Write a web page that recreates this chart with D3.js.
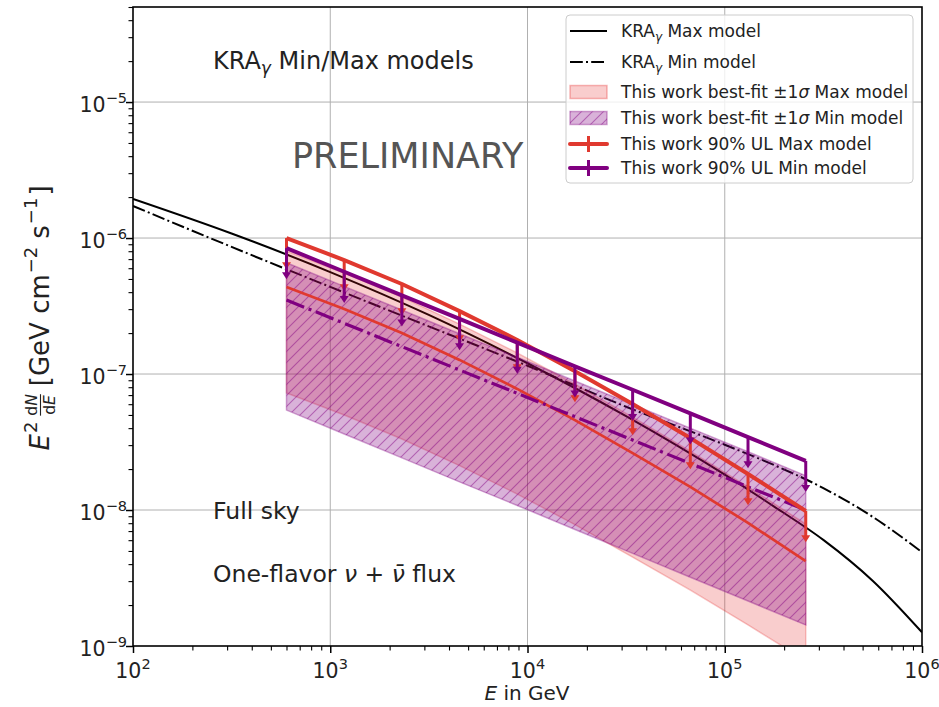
<!DOCTYPE html>
<html><head><meta charset="utf-8">
<script src="https://cdn.jsdelivr.net/npm/d3@7"></script>
<style>
html,body{margin:0;padding:0;background:#fff;}
svg{display:block;font-family:"DejaVu Sans",sans-serif;}
</style></head><body>
<svg id="chart" width="939" height="707"></svg>
<script>
// ---- data -------------------------------------------------------------
// analysis energy bins (GeV)
const binEnergy = [600, 1177, 2307, 4525, 8872, 17400, 34120, 66900, 131200, 257400];

// Max model template fit
const ulMax    = [1.00e-6, 6.89e-7, 4.59e-7, 2.90e-7, 1.78e-7, 1.05e-7, 6.01e-8, 3.38e-8, 1.84e-8, 9.84e-9];
const bfMax    = [4.37e-7, 3.01e-7, 2.00e-7, 1.27e-7, 7.77e-8, 4.58e-8, 2.62e-8, 1.48e-8, 8.03e-9, 4.20e-9];
const bandMaxHi = [8.02e-7, 5.53e-7, 3.68e-7, 2.33e-7, 1.43e-7, 8.42e-8, 4.82e-8, 2.71e-8, 1.48e-8, 7.89e-9];
const bandMaxLo = [7.25e-8, 5.00e-8, 3.33e-8, 2.12e-8, 1.31e-8, 7.80e-9, 4.50e-9, 2.58e-9, 1.43e-9, 7.80e-10];

// Min model template fit
const ulMin    = [8.43e-7, 5.65e-7, 3.79e-7, 2.54e-7, 1.70e-7, 1.14e-7, 7.66e-8, 5.13e-8, 3.44e-8, 2.30e-8];
const bfMin    = [3.50e-7, 2.36e-7, 1.59e-7, 1.07e-7, 7.21e-8, 4.86e-8, 3.27e-8, 2.20e-8, 1.48e-8, 1.00e-8];
const bandMinHi = [6.58e-7, 4.41e-7, 2.96e-7, 1.98e-7, 1.33e-7, 8.89e-8, 5.97e-8, 4.00e-8, 2.68e-8, 1.79e-8];
const bandMinLo = [5.43e-8, 3.62e-8, 2.42e-8, 1.61e-8, 1.08e-8, 7.19e-9, 4.80e-9, 3.20e-9, 2.14e-9, 1.43e-9];

// KRA-gamma model predictions
const modelEnergy = [1e2, 3.16e2, 1e3, 3.16e3, 1e4, 3.16e4, 1e5, 1.78e5, 3.16e5, 5.62e5, 1e6];
const kraMax = [1.94e-6, 1.08e-6, 5.62e-7, 2.72e-7, 1.20e-7, 4.90e-8, 1.82e-8, 1.06e-8, 6.03e-9, 3.02e-9, 1.26e-9];
const kraMin = [1.72e-6, 8.61e-7, 4.37e-7, 2.24e-7, 1.15e-7, 5.75e-8, 3.02e-8, 2.14e-8, 1.45e-8, 8.91e-9, 4.90e-9];

// axis ticks
const xMajor = [1e2, 1e3, 1e4, 1e5, 1e6];
const xMajorExp = ["2", "3", "4", "5", "6"];
const yMajor = [1e-9, 1e-8, 1e-7, 1e-6, 1e-5];
const yMajorExp = ["\u22129", "\u22128", "\u22127", "\u22126", "\u22125"];

// ---- layout -----------------------------------------------------------
const L = 133, R = 922, T = 7, B = 646;
const RED = "#e0392f", PURPLE = "#800080";

const svg = d3.select("#chart");
const x = d3.scaleLog().domain([1e2, 1e6]).range([L, R]);
const y = d3.scaleLog().domain([1e-9, 5e-5]).range([B, T]);

const defs = svg.append("defs");
defs.append("clipPath").attr("id", "plotclip")
  .append("rect").attr("x", L).attr("y", T).attr("width", R - L).attr("height", B - T);
const hatch = defs.append("pattern").attr("id", "hatch")
  .attr("patternUnits", "userSpaceOnUse").attr("width", 11).attr("height", 11);
hatch.append("path").attr("d", "M-3,3 L3,-3 M0,11 L11,0 M8,14 L14,8")
  .attr("stroke", PURPLE).attr("stroke-opacity", 0.45).attr("stroke-width", 1.1);

// grid
const grid = svg.append("g");
grid.selectAll("line.gx").data(xMajor.slice(1, -1)).join("line")
  .attr("x1", d => x(d)).attr("x2", d => x(d)).attr("y1", T).attr("y2", B)
  .attr("stroke", "#b0b0b0").attr("stroke-width", 1);
grid.selectAll("line.gy").data(yMajor.slice(1)).join("line")
  .attr("y1", d => y(d)).attr("y2", d => y(d)).attr("x1", L).attr("x2", R)
  .attr("stroke", "#b0b0b0").attr("stroke-width", 1);

const plot = svg.append("g").attr("clip-path", "url(#plotclip)");

// model curves
const modelLine = d3.line().x((d, i) => x(modelEnergy[i])).y(d => y(d)).curve(d3.curveMonotoneX);
plot.append("path").attr("d", modelLine(kraMax)).attr("fill", "none")
  .attr("stroke", "#000").attr("stroke-width", 2);
plot.append("path").attr("d", modelLine(kraMin)).attr("fill", "none")
  .attr("stroke", "#000").attr("stroke-width", 2).attr("stroke-dasharray", "12.8,3.2,2,3.2");

// +-1 sigma bands
const band = (lo, hi) => d3.area().x((d, i) => x(binEnergy[i])).y0((d, i) => y(lo[i])).y1((d, i) => y(hi[i]))(lo);
plot.append("path").attr("d", band(bandMaxLo, bandMaxHi))
  .attr("fill", "#e41a1c").attr("fill-opacity", 0.22)
  .attr("stroke", "#e41a1c").attr("stroke-opacity", 0.25).attr("stroke-width", 1.5);
plot.append("path").attr("d", band(bandMinLo, bandMinHi))
  .attr("fill", PURPLE).attr("fill-opacity", 0.3)
  .attr("stroke", PURPLE).attr("stroke-opacity", 0.35).attr("stroke-width", 1.5);
plot.append("path").attr("d", band(bandMinLo, bandMinHi)).attr("fill", "url(#hatch)");

// best-fit lines
const binLine = d3.line().x((d, i) => x(binEnergy[i])).y(d => y(d));
plot.append("path").attr("d", binLine(bfMax)).attr("fill", "none")
  .attr("stroke", RED).attr("stroke-width", 2.7);
plot.append("path").attr("d", binLine(bfMin)).attr("fill", "none")
  .attr("stroke", PURPLE).attr("stroke-width", 3.2).attr("stroke-dasharray", "19,4.8,3,4.8");

// 90% upper limits with down arrows
function upperLimits(vals, color) {
  const g = plot.append("g");
  g.append("path").attr("d", binLine(vals)).attr("fill", "none")
    .attr("stroke", color).attr("stroke-width", 4).attr("stroke-linejoin", "round");
  vals.forEach((v, i) => {
    const px = x(binEnergy[i]), top = y(v), bot = y(v * 0.6);
    g.append("line").attr("x1", px).attr("x2", px).attr("y1", top).attr("y2", bot - 3)
      .attr("stroke", color).attr("stroke-width", 3);
    g.append("path").attr("d", `M${px - 4.5},${bot - 6} L${px + 4.5},${bot - 6} L${px},${bot + 1} Z`)
      .attr("fill", color);
  });
}
upperLimits(ulMax, RED);
upperLimits(ulMin, PURPLE);

// ---- axes -------------------------------------------------------------
const xMinor = [];
for (let e = 2; e < 6; e++) for (let k = 2; k <= 9; k++) xMinor.push(k * Math.pow(10, e));
const yMinor = [];
for (let e = -9; e < -4; e++) for (let k = 2; k <= 9; k++) { const v = k * Math.pow(10, e); if (v <= 5e-5) yMinor.push(v); }

const axG = svg.append("g");
const styleAxis = g => { g.select(".domain").remove(); g.selectAll("line").attr("stroke", "#000"); };
axG.append("g").attr("transform", `translate(0,${B})`)
  .call(d3.axisBottom(x).tickValues(xMajor).tickSize(7).tickFormat(""))
  .call(styleAxis).selectAll("line").attr("stroke-width", 1.5);
axG.append("g").attr("transform", `translate(0,${B})`)
  .call(d3.axisBottom(x).tickValues(xMinor).tickSize(4.5).tickFormat(""))
  .call(styleAxis).selectAll("line").attr("stroke-width", 1.1);
axG.append("g").attr("transform", `translate(${L},0)`)
  .call(d3.axisLeft(y).tickValues(yMajor).tickSize(7).tickFormat(""))
  .call(styleAxis).selectAll("line").attr("stroke-width", 1.5);
axG.append("g").attr("transform", `translate(${L},0)`)
  .call(d3.axisLeft(y).tickValues(yMinor).tickSize(4.5).tickFormat(""))
  .call(styleAxis).selectAll("line").attr("stroke-width", 1.1);

// frame
svg.append("rect").attr("x", L).attr("y", T).attr("width", R - L).attr("height", B - T)
  .attr("fill", "none").attr("stroke", "#000").attr("stroke-width", 1.6);

// tick labels
function powLabel(t, exp) {
  t.append("tspan").text("10");
  t.append("tspan").attr("font-size", 14.5).attr("dy", -9).text(exp);
}
xMajor.forEach((v, i) => {
  const t = svg.append("text").attr("x", x(v)).attr("y", 678).attr("text-anchor", "middle")
    .attr("font-size", 20.5).attr("fill", "#222");
  powLabel(t, xMajorExp[i]);
});
yMajor.forEach((v, i) => {
  const t = svg.append("text").attr("x", 127).attr("y", y(v) + 10).attr("text-anchor", "end")
    .attr("font-size", 20.5).attr("fill", "#222");
  powLabel(t, yMajorExp[i]);
});

// rich text helper: segments {t, size, italic, shift}
function rich(sel, segs) {
  let prev = 0;
  segs.forEach(s => {
    const ts = sel.append("tspan").text(s.t);
    if (s.size) ts.attr("font-size", s.size);
    if (s.italic) ts.attr("font-style", "italic");
    const sh = s.shift || 0;
    if (sh !== prev) ts.attr("dy", sh - prev);
    prev = sh;
  });
  return sel;
}

// x label
rich(svg.append("text").attr("x", 527).attr("y", 700).attr("text-anchor", "middle")
  .attr("font-size", 20).attr("fill", "#222"),
  [{t: "E", italic: true}, {t: " in GeV"}]);

// y label, laid out piece by piece then rotated
const yl = svg.append("g").attr("fill", "#222");
let cx = 0;
function piece(txt, size, opts = {}) {
  const t = yl.append("text").attr("x", cx).attr("y", opts.y || 0).attr("font-size", size).text(txt);
  if (opts.italic) t.attr("font-style", "italic");
  cx += t.node().getComputedTextLength() + (opts.after || 0);
  return t;
}
piece("E", 26, {italic: true, after: 1});
piece("2", 18, {y: -12, after: 6});
{
  const num = yl.append("text").attr("y", -12).attr("font-size", 15.5);
  rich(num, [{t: "d"}, {t: "N", italic: true}]);
  const den = yl.append("text").attr("y", 6).attr("font-size", 15.5);
  rich(den, [{t: "d"}, {t: "E", italic: true}]);
  const w = Math.max(num.node().getComputedTextLength(), den.node().getComputedTextLength());
  num.attr("x", cx + w / 2).attr("text-anchor", "middle");
  den.attr("x", cx + w / 2).attr("text-anchor", "middle");
  yl.append("line").attr("x1", cx).attr("x2", cx + w).attr("y1", -8.5).attr("y2", -8.5)
    .attr("stroke", "#222").attr("stroke-width", 1.1);
  cx += w + 8;
}
piece("[GeV cm", 26, {after: 1});
piece("\u22122", 18, {y: -12, after: 8});
piece("s", 26, {after: 1});
piece("\u22121", 18, {y: -12, after: 2});
piece("]", 26);
yl.attr("transform", `translate(49,${318 + cx / 2}) rotate(-90)`);

// annotations
rich(svg.append("text").attr("x", 213).attr("y", 69).attr("font-size", 24).attr("fill", "#222"),
  [{t: "KRA"}, {t: "\u03b3", size: 17, italic: true, shift: 5}, {t: " Min/Max models", shift: 0}]);
svg.append("text").attr("x", 292).attr("y", 168).attr("font-size", 35).attr("fill", "#555")
  .text("PRELIMINARY");
svg.append("text").attr("x", 213).attr("y", 519).attr("font-size", 23.5).attr("fill", "#222").text("Full sky");
rich(svg.append("text").attr("x", 213).attr("y", 582).attr("font-size", 23.5).attr("fill", "#222"),
  [{t: "One-flavor "}, {t: "\u03bd", italic: true}, {t: " + "}, {t: "\u03bd\u0304", italic: true}, {t: " flux"}]);

// ---- legend -----------------------------------------------------------
const lg = svg.append("g");
lg.append("rect").attr("x", 566).attr("y", 15).attr("width", 347).attr("height", 168).attr("rx", 4)
  .attr("fill", "#fff").attr("fill-opacity", 0.8).attr("stroke", "#cccccc").attr("stroke-width", 1);
const rowsY = [31, 62, 92, 118, 144, 168];
const hx0 = 570, hx1 = 607, tx = 621;
lg.append("line").attr("x1", hx0).attr("x2", hx1).attr("y1", rowsY[0]).attr("y2", rowsY[0])
  .attr("stroke", "#000").attr("stroke-width", 2);
lg.append("line").attr("x1", hx0).attr("x2", hx1).attr("y1", rowsY[1]).attr("y2", rowsY[1])
  .attr("stroke", "#000").attr("stroke-width", 2).attr("stroke-dasharray", "12.8,3.2,2,3.2");
lg.append("rect").attr("x", hx0).attr("y", rowsY[2] - 6.5).attr("width", hx1 - hx0).attr("height", 13)
  .attr("fill", "#e41a1c").attr("fill-opacity", 0.22).attr("stroke", "#e41a1c").attr("stroke-opacity", 0.3).attr("stroke-width", 1.5);
lg.append("rect").attr("x", hx0).attr("y", rowsY[3] - 6.5).attr("width", hx1 - hx0).attr("height", 13)
  .attr("fill", PURPLE).attr("fill-opacity", 0.3).attr("stroke", PURPLE).attr("stroke-opacity", 0.35).attr("stroke-width", 1.5);
lg.append("rect").attr("x", hx0).attr("y", rowsY[3] - 6.5).attr("width", hx1 - hx0).attr("height", 13)
  .attr("fill", "url(#hatch)");
[[rowsY[4], RED], [rowsY[5], PURPLE]].forEach(([ry, c]) => {
  lg.append("line").attr("x1", hx0).attr("x2", hx1).attr("y1", ry).attr("y2", ry)
    .attr("stroke", c).attr("stroke-width", 4).attr("stroke-linecap", "round");
  lg.append("line").attr("x1", (hx0 + hx1) / 2).attr("x2", (hx0 + hx1) / 2).attr("y1", ry - 8).attr("y2", ry + 8)
    .attr("stroke", c).attr("stroke-width", 3);
});
const legText = [
  [{t: "KRA"}, {t: "\u03b3", size: 12, italic: true, shift: 4}, {t: " Max model", shift: 0}],
  [{t: "KRA"}, {t: "\u03b3", size: 12, italic: true, shift: 4}, {t: " Min model", shift: 0}],
  [{t: "This work best-fit \u00b11"}, {t: "\u03c3", italic: true}, {t: " Max model"}],
  [{t: "This work best-fit \u00b11"}, {t: "\u03c3", italic: true}, {t: " Min model"}],
  [{t: "This work 90% UL Max model"}],
  [{t: "This work 90% UL Min model"}]
];
legText.forEach((segs, i) => {
  rich(lg.append("text").attr("x", tx).attr("y", rowsY[i] + 6).attr("font-size", 17).attr("fill", "#222"), segs);
});
</script>
</body></html>
